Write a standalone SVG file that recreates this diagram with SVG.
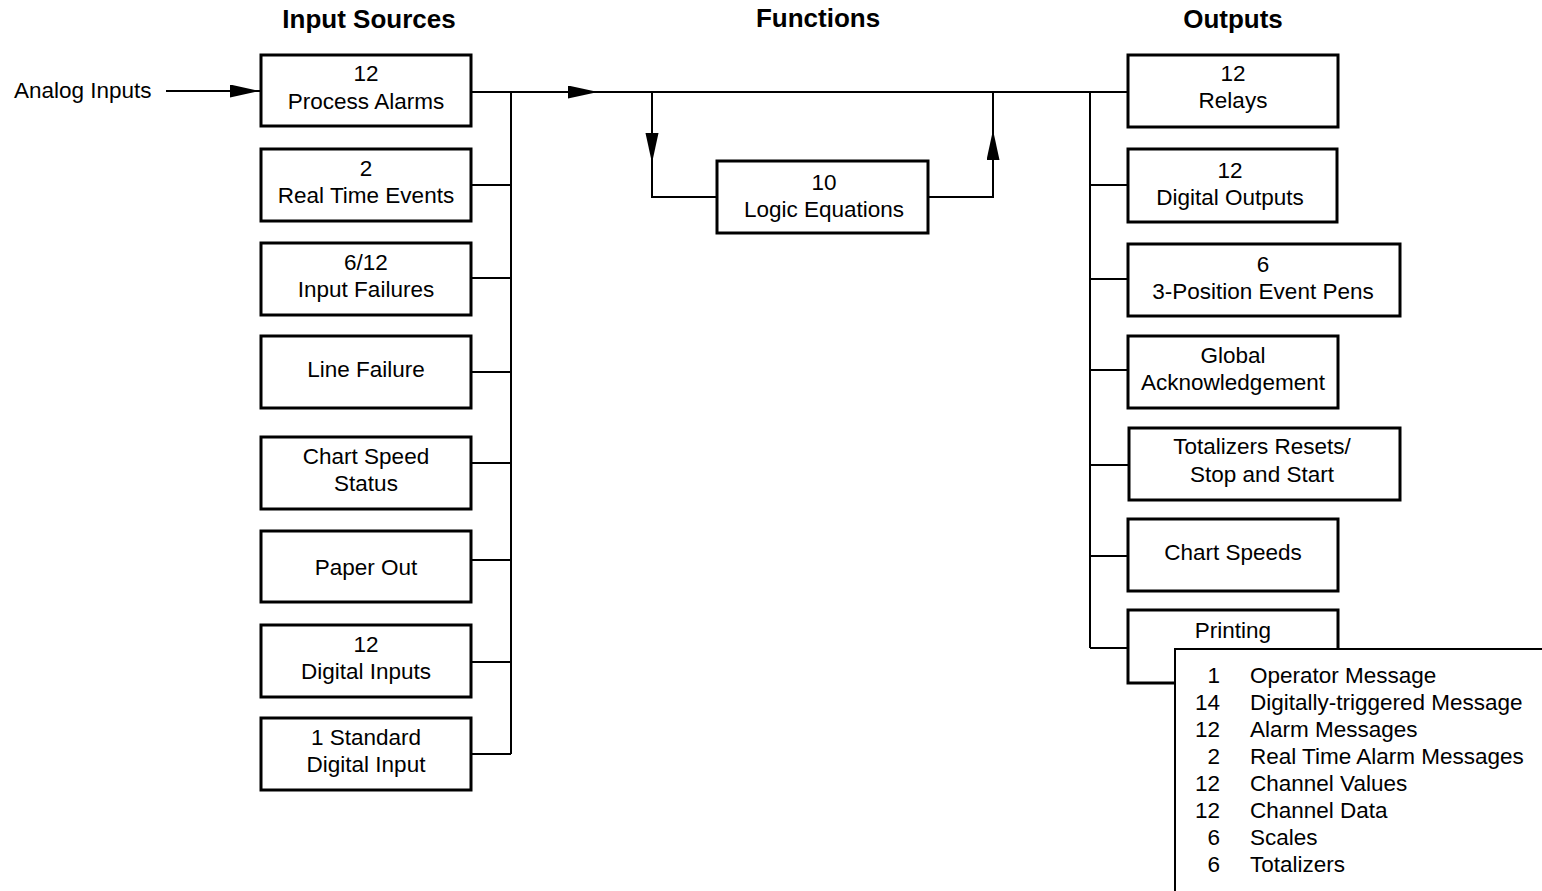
<svg xmlns="http://www.w3.org/2000/svg" width="1542" height="891" viewBox="0 0 1542 891">
<style>
text{font-family:"Liberation Sans",Arial,sans-serif;font-size:22.5px;fill:#000}
.h{font-weight:bold;font-size:26px;text-anchor:middle}
.c{text-anchor:middle}
.r{text-anchor:end}
.box{fill:#fff;stroke:#000;stroke-width:3}
.ln{fill:none;stroke:#000;stroke-width:2}
</style>
<defs>
<marker id="arr" markerUnits="userSpaceOnUse" markerWidth="32" markerHeight="14" refX="30" refY="6.5" orient="auto">
<path d="M0,0 L30,6.5 L0,13 z" fill="#000"/>
</marker>
</defs>
<rect width="1542" height="891" fill="#fff"/>
<g id="headers">
<text class="h" x="369" y="28">Input Sources</text>
<text class="h" x="818" y="27">Functions</text>
<text class="h" x="1233" y="28">Outputs</text>
</g>
<g id="connectors">
<line class="ln" x1="166" y1="91" x2="260" y2="91" marker-end="url(#arr)"/>
<line class="ln" x1="471" y1="92" x2="598" y2="92" marker-end="url(#arr)"/>
<line class="ln" x1="596" y1="92" x2="1128" y2="92"/>
<line class="ln" x1="511" y1="92" x2="511" y2="754"/>
<path class="ln" d="M471,185H511M471,278H511M471,372H511M471,463H511M471,560H511M471,662H511M471,754H511"/>
<line class="ln" x1="652" y1="92" x2="652" y2="163" marker-end="url(#arr)"/>
<path class="ln" d="M652,160V197H717"/>
<path class="ln" d="M928,197H993V160"/>
<line class="ln" x1="993" y1="197" x2="993" y2="130" marker-end="url(#arr)"/>
<line class="ln" x1="993" y1="132" x2="993" y2="92"/>
<line class="ln" x1="1090" y1="92" x2="1090" y2="648"/>
<path class="ln" d="M1090,185H1128M1090,279H1128M1090,370H1128M1090,465H1128M1090,556H1128M1090,648H1128"/>
</g>
<g id="analog-inputs"><text x="14" y="98">Analog Inputs</text></g>
<g id="process-alarms"><rect class="box" x="261" y="55" width="210" height="71"/><text class="c" x="366" y="81">12</text><text class="c" x="366" y="109">Process Alarms</text></g>
<g id="real-time-events"><rect class="box" x="261" y="149" width="210" height="72"/><text class="c" x="366" y="176">2</text><text class="c" x="366" y="203">Real Time Events</text></g>
<g id="input-failures"><rect class="box" x="261" y="243" width="210" height="72"/><text class="c" x="366" y="270">6/12</text><text class="c" x="366" y="297">Input Failures</text></g>
<g id="line-failure"><rect class="box" x="261" y="336" width="210" height="72"/><text class="c" x="366" y="377">Line Failure</text></g>
<g id="chart-speed-status"><rect class="box" x="261" y="437" width="210" height="72"/><text class="c" x="366" y="464">Chart Speed</text><text class="c" x="366" y="491">Status</text></g>
<g id="paper-out"><rect class="box" x="261" y="531" width="210" height="71"/><text class="c" x="366" y="575">Paper Out</text></g>
<g id="digital-inputs"><rect class="box" x="261" y="625" width="210" height="72"/><text class="c" x="366" y="652">12</text><text class="c" x="366" y="679">Digital Inputs</text></g>
<g id="standard-digital-input"><rect class="box" x="261" y="718" width="210" height="72"/><text class="c" x="366" y="745">1 Standard</text><text class="c" x="366" y="772">Digital Input</text></g>
<g id="logic-equations"><rect class="box" x="717" y="161" width="211" height="72"/><text class="c" x="824" y="190">10</text><text class="c" x="824" y="217">Logic Equations</text></g>
<g id="relays"><rect class="box" x="1128" y="55" width="210" height="72"/><text class="c" x="1233" y="81">12</text><text class="c" x="1233" y="108">Relays</text></g>
<g id="digital-outputs"><rect class="box" x="1128" y="149" width="209" height="73"/><text class="c" x="1230" y="178">12</text><text class="c" x="1230" y="205">Digital Outputs</text></g>
<g id="event-pens"><rect class="box" x="1128" y="244" width="272" height="72"/><text class="c" x="1263" y="272">6</text><text class="c" x="1263" y="299">3-Position Event Pens</text></g>
<g id="global-ack"><rect class="box" x="1128" y="336" width="210" height="72"/><text class="c" x="1233" y="363">Global</text><text class="c" x="1233" y="390">Acknowledgement</text></g>
<g id="totalizers"><rect class="box" x="1129" y="428" width="271" height="72"/><text class="c" x="1262" y="454">Totalizers Resets/</text><text class="c" x="1262" y="482">Stop and Start</text></g>
<g id="chart-speeds"><rect class="box" x="1128" y="519" width="210" height="72"/><text class="c" x="1233" y="560">Chart Speeds</text></g>
<g id="printing"><rect class="box" x="1128" y="610" width="210" height="73"/><text class="c" x="1233" y="638">Printing</text></g>
<g id="printing-list">
<rect x="1175" y="649" width="400" height="300" fill="#fff" stroke="#000" stroke-width="2"/>
<text class="r" x="1220" y="683">1</text><text x="1250" y="683">Operator Message</text>
<text class="r" x="1220" y="710">14</text><text x="1250" y="710">Digitally-triggered Message</text>
<text class="r" x="1220" y="737">12</text><text x="1250" y="737">Alarm Messages</text>
<text class="r" x="1220" y="764">2</text><text x="1250" y="764">Real Time Alarm Messages</text>
<text class="r" x="1220" y="791">12</text><text x="1250" y="791">Channel Values</text>
<text class="r" x="1220" y="818">12</text><text x="1250" y="818">Channel Data</text>
<text class="r" x="1220" y="845">6</text><text x="1250" y="845">Scales</text>
<text class="r" x="1220" y="872">6</text><text x="1250" y="872">Totalizers</text>
</g>
</svg>
